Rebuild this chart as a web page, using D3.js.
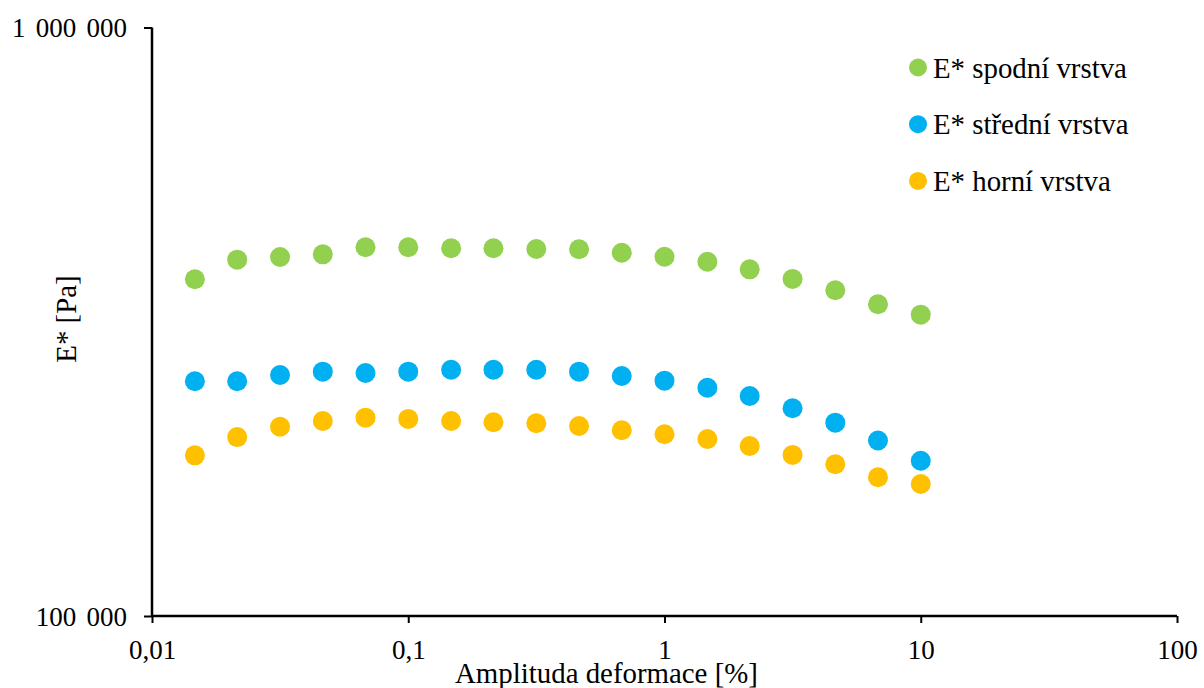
<!DOCTYPE html>
<html>
<head>
<meta charset="utf-8">
<script src="https://cdn.jsdelivr.net/npm/d3@7"></script>
<style>
  body { margin: 0; background: #fff; }
</style>
</head>
<body>
<div id="chart"></div>
<script>
// strain amplitude [%]
const amplitude = [0.0147, 0.0215, 0.0316, 0.0464, 0.0681, 0.1, 0.147, 0.215, 0.316,
  0.464, 0.681, 1, 1.47, 2.15, 3.16, 4.64, 6.81, 10];

// complex modulus E* [Pa]
const spodni = [373400, 403200, 407400, 411700, 423200, 423200, 421600, 421600, 420400,
  419900, 414300, 407800, 399900, 388200, 373900, 357700, 338600, 325100];
const stredni = [250500, 250500, 256800, 260100, 258800, 260100, 262100, 262100, 262100,
  260100, 255800, 251100, 244300, 236500, 225400, 213100, 198700, 183600];
const horni = [187500, 201400, 209700, 214500, 217300, 216200, 214500, 213400, 212600,
  210300, 206800, 203600, 199900, 194500, 187800, 181100, 172100, 167600];

const seriesNames = ['E* spodní vrstva', 'E* střední vrstva', 'E* horní vrstva'];
const seriesColors = ['#92D050', '#00B0F0', '#FFC000'];

const xTicks = [0.01, 0.1, 1, 10, 100];
const xTickLabels = ['0,01', '0,1', '1', '10', '100'];
const yTicks = [100000, 1000000];
const yTickLabels = ['100 000', '1 000 000'];

const FONT = '"Liberation Serif", "Times New Roman", Times, serif';
const width = 1204, height = 688;
const margin = { top: 27.5, right: 27, bottom: 72, left: 152 };

const svg = d3.select('#chart').append('svg')
  .attr('width', width)
  .attr('height', height)
  .style('font-family', FONT);

// scale a text's font so that it spans the given width
function fitWidth(sel, target) {
  const node = sel.node();
  const base = parseFloat(sel.style('font-size'));
  const w = node.getComputedTextLength();
  if (w > 0) sel.style('font-size', (base * target / w) + 'px');
}

const x = d3.scaleLog()
  .domain([0.01, 100])
  .range([margin.left, width - margin.right]);

const y = d3.scaleLog()
  .domain([100000, 1000000])
  .range([height - margin.bottom, margin.top]);

// x axis
const xAxis = svg.append('g')
  .attr('transform', `translate(0,${height - margin.bottom})`)
  .call(d3.axisBottom(x).tickValues(xTicks).tickFormat((d, i) => xTickLabels[i]).tickSize(7));
xAxis.attr('font-family', null).attr('font-size', null);
xAxis.select('.domain').attr('stroke', '#000').attr('stroke-width', 2.5).attr('d', `M${x(0.01)},0H${x(100)}`);
xAxis.selectAll('.tick line').attr('stroke', '#000').attr('stroke-width', 2);
xAxis.selectAll('.tick text')
  .attr('dy', null)
  .attr('y', 43)
  .attr('fill', '#000')
  .style('font-family', FONT)
  .style('font-size', '27px');

// y axis
const yAxis = svg.append('g')
  .attr('transform', `translate(${margin.left},0)`)
  .call(d3.axisLeft(y).tickValues(yTicks).tickFormat((d, i) => yTickLabels[i]).tickSize(8));
yAxis.attr('font-family', null).attr('font-size', null);
yAxis.select('.domain').attr('stroke', '#000').attr('stroke-width', 2.5).attr('d', `M0,${y(100000)}V${y(1000000)}`);
yAxis.selectAll('.tick line').attr('stroke', '#000').attr('stroke-width', 2);
yAxis.selectAll('.tick text')
  .attr('dy', null)
  .attr('y', 9)
  .attr('x', -25)
  .attr('fill', '#000')
  .style('font-family', FONT)
  .style('font-size', '27px')
  .style('word-spacing', '3.5px');

// axis titles
const xTitle = svg.append('text')
  .attr('x', 455)
  .attr('y', 683)
  .style('font-family', FONT)
  .style('font-size', '28px')
  .text('Amplituda deformace [%]');
fitWidth(xTitle, 303);

const yTitle = svg.append('text')
  .attr('transform', 'translate(76,319) rotate(-90)')
  .attr('text-anchor', 'middle')
  .style('font-family', FONT)
  .style('font-size', d => xTitle.style('font-size'))
  .text('E* [Pa]');

// points
const allSeries = [spodni, stredni, horni];
allSeries.forEach((vals, si) => {
  svg.append('g')
    .selectAll('circle')
    .data(vals.map((v, i) => [amplitude[i], v]))
    .join('circle')
    .attr('cx', d => x(d[0]))
    .attr('cy', d => y(d[1]))
    .attr('r', 10)
    .attr('fill', seriesColors[si]);
});

// legend
const legend = svg.append('g').attr('transform', 'translate(918,67.5)');
const item = legend.selectAll('g')
  .data(seriesNames)
  .join('g')
  .attr('transform', (d, i) => `translate(0,${i * 56.7})`);
item.append('circle').attr('r', 9).attr('fill', (d, i) => seriesColors[i]);
const legendText = item.append('text')
  .attr('x', 15)
  .attr('y', 10)
  .style('font-family', FONT)
  .style('font-size', '27px')
  .text(d => d);
fitWidth(legendText.filter((d, i) => i === 0), 194);
legendText.style('font-size', legendText.filter((d, i) => i === 0).style('font-size'));
</script>
</body>
</html>
